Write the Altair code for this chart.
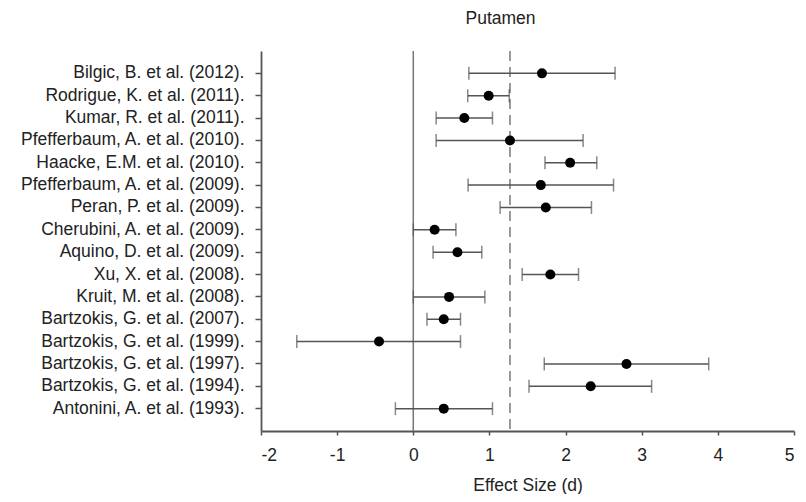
import altair as alt
import pandas as pd

studies = [
    "Bilgic, B. et al. (2012).",
    "Rodrigue, K. et al. (2011).",
    "Kumar, R. et al. (2011).",
    "Pfefferbaum, A. et al. (2010).",
    "Haacke, E.M. et al. (2010).",
    "Pfefferbaum, A. et al. (2009).",
    "Peran, P. et al. (2009).",
    "Cherubini, A. et al. (2009).",
    "Aquino, D. et al. (2009).",
    "Xu, X. et al. (2008).",
    "Kruit, M. et al. (2008).",
    "Bartzokis, G. et al. (2007).",
    "Bartzokis, G. et al. (1999).",
    "Bartzokis, G. et al. (1997).",
    "Bartzokis, G. et al. (1994).",
    "Antonini, A. et al. (1993).",
]
effect = [1.69, 0.99, 0.67, 1.27, 2.06, 1.675, 1.74, 0.28, 0.58, 1.80, 0.47, 0.40, -0.45, 2.80, 2.33, 0.40]
ci_low = [0.73, 0.715, 0.30, 0.30, 1.73, 0.72, 1.14, 0.0, 0.26, 1.43, 0.0, 0.18, -1.53, 1.72, 1.52, -0.235]
ci_high = [2.65, 1.26, 1.04, 2.23, 2.41, 2.63, 2.34, 0.56, 0.90, 2.17, 0.94, 0.62, 0.62, 3.88, 3.13, 1.04]
x_ticks = [-2, -1, 0, 1, 2, 3, 4, 5]
zero_line = 0
mean_effect = 1.27

df = pd.DataFrame({"study": studies, "d": effect, "lo": ci_low, "hi": ci_high})

FONT = "Liberation Sans"
TXT = "#222222"
GREY = "#555555"

x_enc = alt.X(
    "d:Q",
    scale=alt.Scale(domain=[x_ticks[0], x_ticks[-1]], nice=False, zero=False),
    axis=alt.Axis(
        title="Effect Size (d)",
        values=x_ticks,
        labelExpr="'' + datum.value",
        grid=False,
        tickSize=4,
        labelPadding=11,
        titlePadding=13,
    ),
)
y_enc = alt.Y(
    "study:N",
    sort=studies,
    scale=alt.Scale(padding=1),
    axis=alt.Axis(title=None, grid=False, tickSize=6, labelPadding=11, labelLimit=400),
)

base = alt.Chart(df)

bars = base.mark_rule(color=GREY, strokeWidth=1.5).encode(
    x=alt.X("lo:Q"), x2="hi:Q", y=y_enc
)
cap_lo = base.mark_tick(color=GREY, size=13, thickness=1.5).encode(x="lo:Q", y=y_enc)
cap_hi = base.mark_tick(color=GREY, size=13, thickness=1.5).encode(x="hi:Q", y=y_enc)
points = base.mark_circle(color="black", opacity=1, size=100).encode(x=x_enc, y=y_enc)

zero = alt.Chart(pd.DataFrame({"v": [zero_line]})).mark_rule(
    color="#777777", strokeWidth=1.5
).encode(x="v:Q")
mean = alt.Chart(pd.DataFrame({"v": [mean_effect]})).mark_rule(
    color="#777777", strokeWidth=1.5, strokeDash=[10, 6]
).encode(x="v:Q")

chart = (
    alt.layer(zero, mean, bars, cap_lo, cap_hi, points)
    .properties(
        width=533,
        height=380,
        autosize=alt.AutoSizeParams(type="none"),
        padding={"left": 253, "top": 43, "right": 4, "bottom": 63},
        title=alt.TitleParams(
            "Putamen",
            font=FONT,
            fontSize=17.5,
            fontWeight="normal",
            color=TXT,
            anchor="middle",
            dx=-27,
            offset=23,
        ),
    )
    .configure_view(stroke=None)
    .configure_axis(
        labelFont=FONT,
        titleFont=FONT,
        labelFontSize=17.5,
        titleFontSize=17.5,
        titleFontWeight="normal",
        labelColor=TXT,
        titleColor=TXT,
        domainColor=GREY,
        domainWidth=1.8,
        tickColor=GREY,
        tickWidth=1.5,
    )
)

chart.save("out.html", embed_options={"renderer": "svg", "actions": False})
